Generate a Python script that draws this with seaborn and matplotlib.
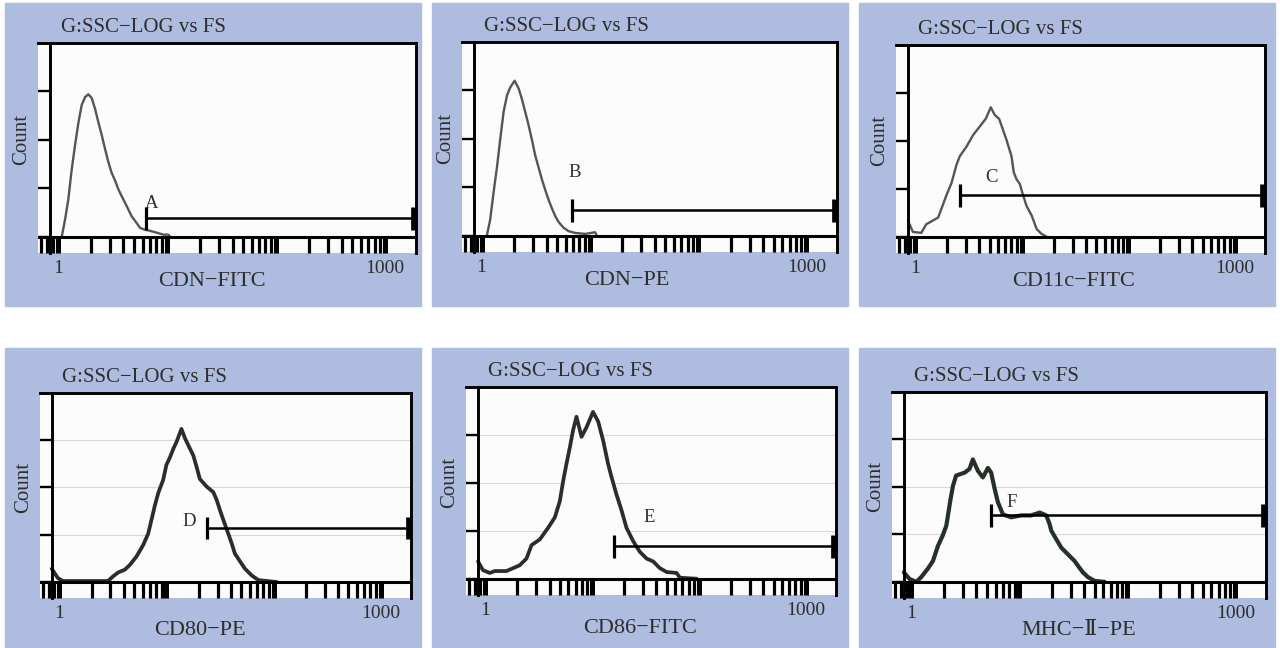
import numpy as np
import matplotlib
matplotlib.use("Agg")
import matplotlib.pyplot as plt
import seaborn as sns
from matplotlib.patches import Rectangle
from matplotlib.ticker import FixedLocator, FixedFormatter, LogLocator, NullFormatter

sns.set_style("white")
plt.rcParams["font.family"] = ["Liberation Serif", "DejaVu Serif", "Noto Sans CJK SC"]

# histogram outlines (fluorescence, count)
cdn_fitc_x = [1.09, 1.17, 1.25, 1.34, 1.44, 1.55, 1.66, 1.78, 1.91, 2.05, 2.20, 2.36, 2.53, 2.71, 2.91,
              3.12, 3.35, 3.59, 3.85, 4.14, 4.44, 4.76, 5.29, 5.68, 6.31, 7.0, 8.07, 9.3, 10.3, 10.7]
cdn_fitc_count = [0, 18, 38, 68, 94, 118, 136, 144, 147, 143, 132, 118, 105, 91, 77,
                  66, 58, 49, 42, 35, 28, 21, 14, 9, 7, 6, 4, 2, 2, 0]

cdn_pe_x = [1.12, 1.20, 1.29, 1.39, 1.49, 1.60, 1.72, 1.84, 2.02, 2.20, 2.36, 2.53, 2.72, 2.92,
            3.13, 3.37, 3.61, 3.88, 4.16, 4.47, 4.80, 5.15, 5.73, 6.37, 7.33, 9.07, 11.2, 11.6]
cdn_pe_count = [0, 16, 44, 71, 100, 128, 145, 153, 160, 152, 141, 128, 114, 99,
                83, 70, 58, 47, 37, 28, 20, 14, 8, 4.5, 2.7, 1.7, 3.4, 0]

cd11c_x = [0.855, 0.95, 1.14, 1.27, 1.42, 1.64, 1.76, 1.96, 2.19, 2.44, 2.62, 3.03, 3.49, 4.04, 4.59,
           5.12, 5.58, 6.13, 6.69, 7.19, 8.01, 8.42, 8.93, 9.59, 10.3, 11.1, 12.4, 13.8, 15.3, 17.1]
cd11c_count = [17, 5, 4, 13, 16, 20, 29, 43, 56, 75, 84, 94, 106, 115, 123,
               135, 127, 123, 111, 101, 84, 67, 60, 55, 43, 32, 22, 8, 3, 0]

cd80_x = [0.85, 0.97, 1.08, 2.85, 3.18, 3.54, 4.09, 4.55, 5.26, 6.06, 6.75, 7.26, 7.80, 8.38, 9.32,
          10.0, 10.8, 11.6, 12.4, 13.8, 14.9, 16.6, 17.8, 19.1, 20.5, 23.7, 27.4, 29.4, 31.6, 33.9,
          37.8, 40.6, 43.6, 48.5, 54.1, 62.4, 72, 86, 107]
cd80_count = [14, 4, 1, 1, 6, 10, 13, 18, 27, 39, 51, 66, 81, 94, 108,
              124, 132, 141, 148, 162, 152, 141, 134, 122, 109, 101, 95, 87, 76, 66,
              51, 41, 30, 22, 14, 7, 2, 1, 0]

cd86_x = [0.855, 0.95, 1.10, 1.23, 1.58, 1.82, 2.10, 2.43, 2.71, 3.24, 3.87, 4.48, 4.99, 5.36, 5.76,
          6.19, 6.64, 7.14, 7.96, 8.87, 10.2, 11.4, 12.7, 14.1, 15.2, 16.9, 18.9, 21.0, 24.3, 28.0,
          32.4, 37.3, 43.1, 49.8, 61.8, 66.4, 95]
cd86_count = [18, 9, 6, 8, 8, 11, 14, 21, 35, 41, 53, 64, 81, 102, 120,
              137, 155, 169, 148, 158, 174, 164, 144, 120, 106, 88, 71, 53, 39, 28,
              21, 18, 11, 7, 6, 1, 0]

mhc2_x = [0.85, 0.96, 1.11, 1.23, 1.42, 1.58, 1.76, 1.95, 2.10, 2.30, 2.42, 2.59, 3.10, 3.45, 3.70,
          4.12, 4.58, 5.10, 5.47, 5.89, 6.31, 7.03, 8.39, 10.4, 12.8, 15.4, 17.7, 19.0, 19.7, 21.9,
          24.4, 28.1, 32.4, 34.8, 38.7, 43.1, 49.7, 61.5]
mhc2_count = [10, 3, 0, 5, 14, 22, 38, 49, 59, 87, 101, 112, 115, 119, 129,
              117, 110, 120, 115, 98, 84, 71, 68, 70, 70, 73, 70, 61, 54, 45,
              36, 29, 22, 17, 10, 5, 1, 0]

x_labels = ["CDN\u2212FITC", "CDN\u2212PE", "CD11c\u2212FITC", "CD80\u2212PE", "CD86\u2212FITC", "MHC\u2212\u2161\u2212PE"]
gate_names = ["A", "B", "C", "D", "E", "F"]
gate_start = [6.4, 6.84, 2.62, 24, 16.0, 5.41]
gate_level = [19, 26, 43, 57, 34, 70]
gate_label_pos = [(7.3, 34), (7.25, 65), (5.2, 62), (16.2, 64), (34.2, 64), (8.5, 84)]
gate_end = 1800

series = [(cdn_fitc_x, cdn_fitc_count), (cdn_pe_x, cdn_pe_count), (cd11c_x, cd11c_count),
          (cd80_x, cd80_count), (cd86_x, cd86_count), (mhc2_x, mhc2_count)]

# layout in pixels
blue_boxes = [(5, 3, 421, 306), (432, 3, 848, 306), (859, 3, 1275, 306),
              (5, 348, 421, 648), (432, 348, 848, 648), (859, 348, 1275, 648)]
white_boxes = [(38, 43, 416, 253), (462, 42, 837, 252), (896, 45, 1265, 253),
               (40, 393, 411, 598), (466, 387, 836, 595), (892, 392, 1266, 598)]
xlabel_frac = [0.46, 0.44, 0.48, 0.43, 0.47, 0.5]

W, H = 1280, 648
BLUE = "#aebcdf"
TXT = "#2e2e2e"

fig = plt.figure(figsize=(12.8, 6.48), dpi=100)

for i in range(6):
    bx0, by0, bx1, by1 = blue_boxes[i]
    fig.add_artist(Rectangle((bx0 / W, 1 - by1 / H), (bx1 - bx0) / W, (by1 - by0) / H,
                             transform=fig.transFigure, color=BLUE, zorder=-1))
    x0, y0, x1, y1 = white_boxes[i]
    ax = fig.add_axes([x0 / W, 1 - y1 / H, (x1 - x0) / W, (y1 - y0) / H])
    ax.set_facecolor("#fcfcfc")
    bottom_row = i >= 3

    xs, cs = series[i]
    ax.set_xscale("log")
    ax.set_xlim(0.66, 1920)
    ax.set_ylim(-17, 200)

    if bottom_row:
        ax.grid(axis="y", color="#d8d8d8", lw=0.8)
        ax.set_axisbelow(True)
        ax.fill_between(xs, cs, 0, color="#fcfcfc", zorder=1.5, lw=0)
    line_color = "#2c2c2c" if bottom_row else "#555555"
    line_w = 2.7 if bottom_row else 1.7
    if i == 5:
        line_color = "#253029"
        line_w = 3.0
    sns.lineplot(x=xs, y=cs, ax=ax, color=line_color, lw=line_w, estimator=None, sort=False, zorder=2)
    ax.axhline(0, color="black", lw=2.2, zorder=2.5)

    # gate bar
    gy = gate_level[i]
    ax.hlines(gy, gate_start[i], gate_end, color="black", lw=1.8, zorder=3)
    ax.vlines(gate_start[i], gy - 12, gy + 12, color="black", lw=2.3, zorder=3)
    ax.vlines(gate_end, gy - 12, gy + 12, color="black", lw=3.4, zorder=3)
    lx, ly = gate_label_pos[i]
    ax.text(lx, ly, gate_names[i], ha="center", va="center", fontsize=13.5, color=TXT)

    # spines
    for side in ["top", "right", "left"]:
        ax.spines[side].set_color("black")
        ax.spines[side].set_linewidth(2.1)
    ax.spines["bottom"].set_visible(False)
    ax.spines["left"].set_position(("data", 0.85))

    # y ticks outward on the left spine
    ax.set_yticks([0, 50, 100, 150])
    ax.tick_params(axis="y", direction="out", length=8.6, width=1.7, color="black",
                   labelleft=False, left=True)

    # log tick band under the baseline
    ax.xaxis.set_major_locator(FixedLocator([1, 10, 100, 1000]))
    ax.xaxis.set_major_formatter(FixedFormatter(["1", "", "", "1000"]))
    ax.xaxis.set_minor_locator(LogLocator(base=10, subs=np.arange(2, 10)))
    ax.xaxis.set_minor_formatter(NullFormatter())
    ax.tick_params(axis="x", which="major", direction="in", length=11.5, width=3.6,
                   color="black", labelsize=14, labelcolor=TXT, pad=5, bottom=True)
    ax.tick_params(axis="x", which="minor", direction="in", length=11.5, width=2.3,
                   color="black", bottom=True)
    ax.set_xlabel("")
    ax.set_ylabel("")

    # texts
    ax.annotate("G:SSC\u2212LOG vs FS", xy=(0.06, 1.0), xycoords="axes fraction",
                xytext=(0, 11), textcoords="offset points", ha="left", va="center",
                fontsize=15, color=TXT)
    ax.text(-16 / (x1 - x0), 0.54, "Count", rotation=90, transform=ax.transAxes,
            ha="center", va="center", fontsize=15, color=TXT)
    ylab = -0.135 if not bottom_row else -0.16
    ax.text(xlabel_frac[i], ylab, x_labels[i], transform=ax.transAxes,
            ha="center", va="center", fontsize=16, color=TXT)

fig.savefig("out.png", dpi=100, facecolor="white")
